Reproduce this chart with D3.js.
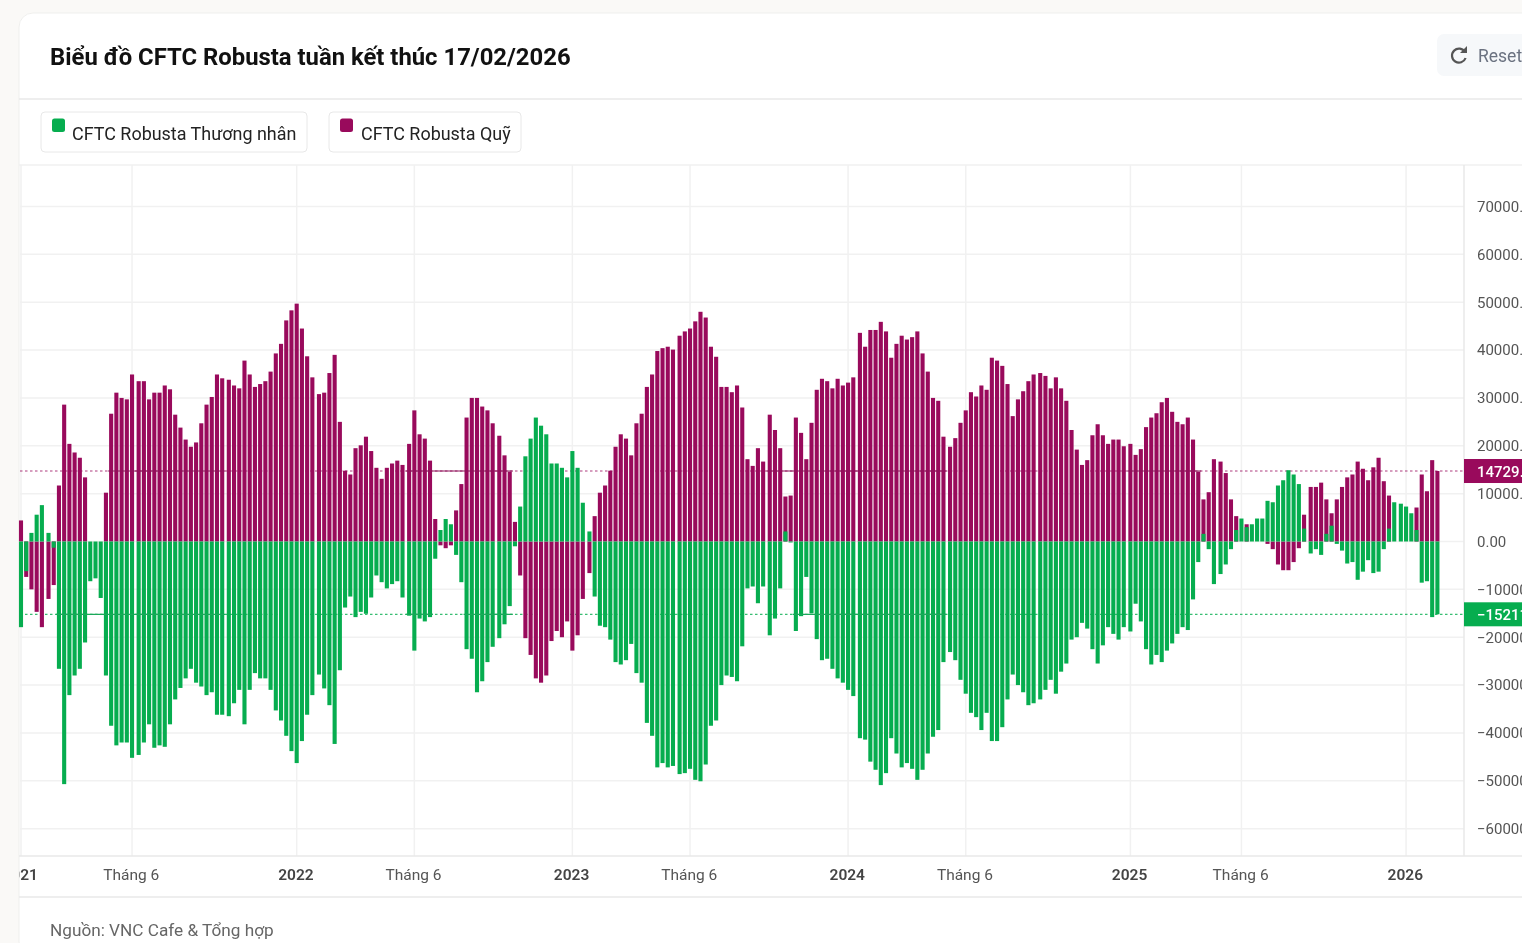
<!DOCTYPE html>
<html lang="vi"><head><meta charset="utf-8">
<script src="https://cdn.jsdelivr.net/npm/d3@7/dist/d3.min.js"></script>
<style>
html,body{margin:0;padding:0;background:#faf9f7;overflow:hidden;width:1522px;height:943px}
svg{display:block;font-family:Roboto,sans-serif;filter:blur(0.3px)}
</style></head><body><div id="chart"></div>
<script>
const title = "Biểu đồ CFTC Robusta tuần kết thúc 17/02/2026";
const source = "Nguồn: VNC Cafe & Tổng hợp";
const seriesNames = ["CFTC Robusta Thương nhân", "CFTC Robusta Quỹ"];
const firstWeek = "2021-01-05";
const yTicks = [70000,60000,50000,40000,30000,20000,10000,0,-10000,-20000,-30000,-40000,-50000,-60000];
const xTickDates = ["2021-01-05","2021-06-01","2022-01-04","2022-06-07","2023-01-03","2023-06-06","2024-01-02","2024-06-04","2025-01-07","2025-06-03","2026-01-06"];
const xTickLabels = ["2021","Tháng 6","2022","Tháng 6","2023","Tháng 6","2024","Tháng 6","2025","Tháng 6","2026"];
// thousand contracts
const traders = [-17.9,-6.2,1.8,5.6,7.6,1.8,-1.3,-26.6,-50.7,-32.1,-28,-26.6,-21.1,-8.3,-7.7,-11.8,-28,-38.5,-42.6,-42,-42,-45.2,-44.6,-42,-38.2,-43.1,-42.6,-42.9,-38.2,-33,-30.6,-28.6,-26.6,-29.5,-30.3,-32.1,-31.5,-36.2,-36.2,-36.5,-33.8,-31,-38.2,-31,-27.5,-28.6,-28.6,-31,-35.3,-37.4,-40.6,-43.8,-46.3,-41.7,-36.2,-32.1,-27.8,-30.7,-34.2,-42.3,-26.9,-13.8,-11.5,-15.8,-14.7,-15.1,-11.7,-7.1,-8.5,-9.8,-8.9,-8.3,-11.7,-15.5,-22.8,-16.1,-16.7,-15.8,-3.6,2.4,4.7,3.6,-2.8,-8.5,-22.5,-24.5,-31.5,-29.2,-25.2,-22,-20.2,-17.3,-13.5,-1,7.3,17.8,21.5,25.9,24.2,22.4,16.3,16.3,15.4,13.4,18.9,15.4,8.1,2.1,-11.5,-17.6,-17.9,-20.5,-25.2,-25.7,-24.8,-21.4,-27.5,-29.5,-37.9,-40.6,-47.2,-46.3,-47.2,-46.9,-48.6,-48.4,-47.5,-49.8,-50.1,-46.6,-38.5,-37.4,-30,-28,-28.3,-29.2,-21.9,-9.8,-9.4,-12.9,-9.4,-19.6,-16.1,-9.8,2.1,-0.2,-18.7,-15.6,-7.4,-15,-20.4,-24.8,-24.5,-26.6,-28.6,-29.5,-31,-32.3,-41.1,-41.4,-46,-47.7,-50.9,-48.4,-41.1,-44.3,-47.2,-46.3,-47.5,-49.8,-47.7,-44.3,-40.8,-39.4,-25.2,-23.1,-24.8,-28.9,-31.8,-35.8,-36.7,-39.4,-35.8,-41.7,-41.7,-38.8,-33,-27.8,-30,-31.5,-34.2,-33.8,-33,-31,-28.9,-31.8,-27.2,-25.5,-20.5,-20,-17,-18.2,-22.5,-25.5,-21.7,-17.9,-19.3,-20.5,-17.9,-18.8,-13,-16.7,-22.5,-25.7,-23.7,-25.2,-22.8,-21.3,-19.3,-17.9,-18.5,-12.1,-4.3,1.6,-1.6,-8.9,-6.8,-4.8,-1.6,2.4,4.8,3,3.6,4.8,4.8,8.5,8.2,11.7,12.8,14.9,14,12,2.7,-2.5,-1.6,-2.8,1.6,3.3,-0.5,-1.9,-4.6,-4.3,-8,-6.3,-3.9,-6.6,-6.3,-1.6,2.7,8.2,7.9,7.3,5.9,2.4,-8.6,-8.3,-15.8,-15.211];
const funds = [4.4,-7.4,-10,-14.7,-17.9,-12,-9.1,11.7,28.6,20.4,18.6,17.5,13.4,0,0,0,10.2,26.7,31.1,30,29.7,34.9,33.5,33.5,29.7,31.1,31.1,32.6,31.8,26.5,23.8,21.3,19.8,20.7,24.7,28.6,30.2,34.9,34.1,33.8,32.6,32,37.8,34.9,32.3,32.9,33.5,35.5,39.3,41.3,46.2,48.3,49.7,44.5,38.7,34.3,30.8,31.1,35.2,39,25,14.8,14,19.5,20.1,21.9,18.9,15.4,13.1,15.4,16.3,16.9,16,20.4,27.4,22.4,21.5,16.9,4.7,-0.8,-1.4,-0.8,6.5,12,25.9,30,30,28.2,27.4,24.7,22.1,18,14.6,4.1,-7.1,-20.2,-23.7,-28.6,-29.5,-28,-20.8,-18.7,-20,-16.7,-22.8,-19.6,-12,-6.6,5.3,10.2,11.7,14.8,19.8,22.4,21.5,18,24.7,26.7,32.3,34.9,39.8,40.4,40.7,40.1,43,43.9,44.5,46,48,46.8,40.7,38.6,32.3,32.3,31.2,32.6,28,17.2,15.8,19.5,16.7,26.5,23.3,19.5,9.4,9.6,25.9,22.7,17.2,24.8,31.7,34,33.5,32,34,32.6,33.2,34.3,43.6,40.7,44.2,44.2,45.9,43.9,38.4,41.3,43,42.2,42.7,43.9,39.3,35.5,30,29.4,21.9,19.8,21.6,24.8,27.4,31.2,30.3,32.6,31.7,38.4,37.8,36.7,32.9,26.2,29.7,31.4,33.5,34.9,35.2,34.6,32,34.3,32,29.4,23.3,19.2,16,17,22.2,24.5,22.2,20.4,21.3,21.3,19.9,20.4,18.1,19.3,23.9,25.9,26.8,29.1,30,27.1,25,24.5,25.9,21.3,14.6,8.8,10.3,17.2,16.7,14.3,8.8,5.3,0,3.6,0,0,0,-0.5,-1.6,-4.8,-6,-6,-4.3,-1.4,5.6,11.4,11.4,12.3,8.8,5.9,8.8,11.4,13.4,14,16.7,15.2,12.8,15.5,17.5,12.6,9.6,0,0,0,0,7.1,14,10.5,17,14.729];

const W = 1522, H = 943, plot = {l:20, r:1464, t:165, b:856};
const GREEN = "#06ad4f", PURPLE = "#990a5c", GRID = "#f1f1f1", LINE = "#e9e9e9";
const parse = d3.utcParse("%Y-%m-%d");
const weeks = traders.map((_, i) => d3.utcDay.offset(parse(firstWeek), i * 7));
const slot = d3.scaleLinear().domain([0, traders.length - 1]).range([21, 1415]);
// The source screenshot was resampled in strips of 17 weeks, leaving a small step between strips.
const xAt = i => slot(i) + 1.4 * Math.floor((i + 12) / 17);
const xOfDate = s => xAt(d3.bisectLeft(weeks, parse(s)));
const y = d3.scaleLinear().domain([0, 70000]).range([541.5, 206.5]);

const svg = d3.select("#chart").append("svg").attr("width", W).attr("height", H);
const defs = svg.append("defs");
defs.append("clipPath").attr("id","plotClip").append("rect").attr("x",19).attr("y",plot.t).attr("width",W).attr("height",H);

// card
svg.append("rect").attr("x",19).attr("y",13).attr("width",W).attr("height",H).attr("rx",14)
  .attr("fill","#fff").attr("stroke","#efefed");
svg.append("text").attr("x",50).attr("y",65).attr("font-size",23.85).attr("font-weight",700).attr("fill","#111").text(title);
svg.append("line").attr("x1",19).attr("x2",W).attr("y1",99).attr("y2",99).attr("stroke",LINE).attr("stroke-width",1.5);

// reset button
const rb = svg.append("g");
rb.append("rect").attr("x",1437).attr("y",34).attr("width",100).attr("height",42).attr("rx",7).attr("fill","#f6f8fa");
rb.append("path").attr("d","M1465 52 A7 7 0 1 0 1465.6 58").attr("fill","none").attr("stroke","#555").attr("stroke-width",2.2);
rb.append("path").attr("d","M1467 46 L1467 53 L1460 53 Z").attr("fill","#555");
rb.append("text").attr("x",1478).attr("y",62).attr("font-size",17.5).attr("fill","#6b7280").text("Reset");

// legend
const legendBoxes = [{x:41,w:266,c:GREEN,tx:31},{x:329,w:192,c:PURPLE,tx:32}];
legendBoxes.forEach((b,i) => {
  const g = svg.append("g");
  g.append("rect").attr("x",b.x).attr("y",112).attr("width",b.w).attr("height",40).attr("rx",4).attr("fill","#fff").attr("stroke","#e8e8e8");
  g.append("rect").attr("x",b.x+11).attr("y",118.5).attr("width",13).attr("height",13.5).attr("rx",2.5).attr("fill",b.c);
  g.append("text").attr("x",b.x+b.tx).attr("y",140).attr("font-size",17.95).attr("fill","#222").text(seriesNames[i]);
});

// frame of plot
const gridG = svg.append("g");
gridG.selectAll("line.h").data(yTicks).join("line").attr("class","h")
  .attr("x1",plot.l).attr("x2",plot.r).attr("y1",d=>y(d)).attr("y2",d=>y(d)).attr("stroke",GRID).attr("stroke-width",1.5);
gridG.selectAll("line.v").data(xTickDates).join("line").attr("class","v")
  .attr("x1",d=>xOfDate(d)).attr("x2",d=>xOfDate(d)).attr("y1",plot.t).attr("y2",plot.b).attr("stroke",GRID).attr("stroke-width",1.5);
gridG.append("line").attr("x1",19).attr("x2",W).attr("y1",plot.t).attr("y2",plot.t).attr("stroke",GRID).attr("stroke-width",1.5);
gridG.append("line").attr("x1",19).attr("x2",W).attr("y1",plot.b).attr("y2",plot.b).attr("stroke",LINE).attr("stroke-width",1.5);
gridG.append("line").attr("x1",plot.r).attr("x2",plot.r).attr("y1",plot.t).attr("y2",plot.b).attr("stroke",LINE).attr("stroke-width",1.5);
gridG.append("line").attr("x1",19).attr("x2",W).attr("y1",897).attr("y2",897).attr("stroke",LINE).attr("stroke-width",1.5);

// last-value guide lines under the bars
const lastFund = funds[funds.length-1]*1000, lastTrader = traders[traders.length-1]*1000;
const guide = (v,c) => svg.append("line").attr("x1",plot.l).attr("x2",plot.r).attr("y1",y(v)).attr("y2",y(v))
  .attr("stroke",c).attr("stroke-width",1.2).attr("stroke-opacity",0.8).attr("stroke-dasharray","2.5 2.5");
guide(lastFund,PURPLE); guide(lastTrader,GREEN);

// bars
const barW = 4.1;
const barRect = (sel, arr, c) => sel.selectAll("rect").data(arr).join("rect")
  .attr("x",(d,i)=>xAt(i)-barW/2).attr("width",barW)
  .attr("y",d=>y(Math.max(0,d*1000))).attr("height",d=>Math.abs(y(d*1000)-y(0))).attr("fill",c);
barRect(svg.append("g"), funds, PURPLE);
barRect(svg.append("g"), traders, GREEN);

// parts of the guide lines that sit on top of the bars
const overlay = (v,c,spans) => svg.append("g").selectAll("line").data(spans).join("line")
  .attr("x1",d=>xAt(d[0])-3).attr("x2",d=>xAt(d[1])+3).attr("y1",y(v)).attr("y2",y(v)).attr("stroke",c).attr("stroke-width",1.2);
overlay(lastFund,"#8c1258",[[17,38],[73,92],[141,174],[209,222]]);
overlay(lastTrader,"#1ba85a",[[7,38],[73,77],[84,92],[146,174]]);

// y axis
const yAxis = svg.append("g").attr("transform",`translate(1464,0)`)
  .call(d3.axisRight(y).tickValues(yTicks).tickFormat(d3.format(".2f")).tickSize(0).tickPadding(13));
yAxis.select(".domain").remove();
yAxis.selectAll("text").attr("font-family",'Roboto,sans-serif').attr("font-size",15).attr("fill","#555");

// last-value labels
[[lastFund,PURPLE,"14729.00"],[lastTrader,GREEN,"−15211.00"]].forEach(([v,c,t])=>{
  svg.append("rect").attr("x",1464).attr("y",y(v)-12).attr("width",70).attr("height",24).attr("fill",c);
  svg.append("text").attr("x",1477).attr("y",y(v)+5.5).attr("font-size",15).attr("font-weight",500).attr("fill","#fff").text(t);
});

// x axis labels
const xg = svg.append("g").attr("clip-path","url(#plotClip)");
xg.selectAll("text").data(xTickDates).join("text")
  .attr("x",d=>xOfDate(d)-0.8).attr("y",880).attr("text-anchor","middle").attr("font-size",15.5)
  .attr("font-weight",(d,i)=>/^\d/.test(xTickLabels[i])?600:400)
  .attr("fill",(d,i)=>/^\d/.test(xTickLabels[i])?"#444":"#555")
  .text((d,i)=>xTickLabels[i]);

svg.append("text").attr("x",50).attr("y",936).attr("font-size",17.2).attr("fill","#666").text(source);
</script></body></html>
